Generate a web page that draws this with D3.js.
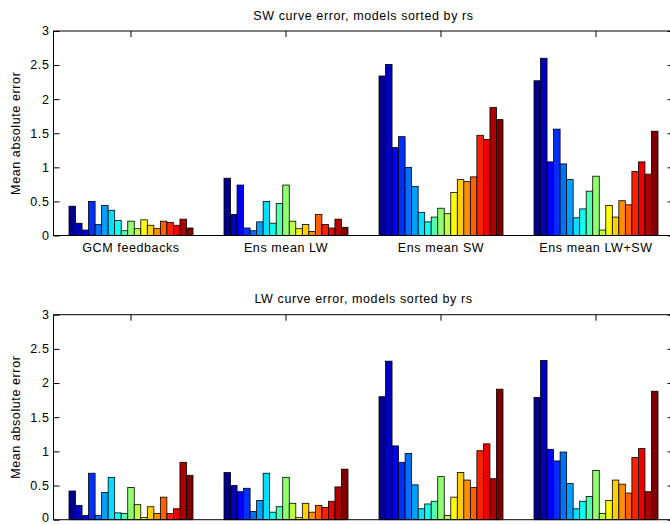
<!DOCTYPE html>
<html>
<head>
<meta charset="utf-8">
<script src="https://cdn.jsdelivr.net/npm/d3@7"></script>
<style>
  body { margin: 0; background: #fff; }
  svg { display: block; }
  text { font-family: "Liberation Sans", Arial, Helvetica, sans-serif; font-size: 12.5px; letter-spacing: 0.6px; fill: #000; }
</style>
</head>
<body>
<div id="chart"></div>
<script>
// values, one row per group, 19 models each
const groupLabels = ["GCM feedbacks", "Ens mean LW", "Ens mean SW", "Ens mean LW+SW"];
const yTicks = [0, 0.5, 1, 1.5, 2, 2.5, 3];

const swError = [
  [0.43, 0.18, 0.08, 0.50, 0.16, 0.44, 0.37, 0.22, 0.07, 0.21, 0.10, 0.23, 0.15, 0.10, 0.21, 0.19, 0.15, 0.24, 0.11],
  [0.84, 0.31, 0.74, 0.11, 0.07, 0.20, 0.50, 0.18, 0.47, 0.74, 0.21, 0.10, 0.16, 0.06, 0.31, 0.16, 0.11, 0.24, 0.12],
  [2.34, 2.51, 1.29, 1.45, 1.00, 0.72, 0.34, 0.20, 0.27, 0.40, 0.32, 0.63, 0.82, 0.79, 0.86, 1.47, 1.41, 1.88, 1.70],
  [2.27, 2.60, 1.08, 1.56, 1.05, 0.82, 0.26, 0.39, 0.65, 0.87, 0.08, 0.44, 0.27, 0.51, 0.45, 0.94, 1.08, 0.90, 1.53]
];

const lwError = [
  [0.42, 0.21, 0.06, 0.68, 0.06, 0.40, 0.62, 0.10, 0.09, 0.47, 0.22, 0.03, 0.19, 0.09, 0.33, 0.09, 0.16, 0.84, 0.65],
  [0.69, 0.50, 0.41, 0.46, 0.12, 0.28, 0.68, 0.11, 0.19, 0.62, 0.24, 0.03, 0.24, 0.11, 0.21, 0.18, 0.27, 0.48, 0.74],
  [1.80, 2.32, 1.08, 0.84, 0.97, 0.51, 0.16, 0.23, 0.27, 0.63, 0.06, 0.33, 0.69, 0.58, 0.47, 1.01, 1.11, 0.60, 1.91],
  [1.79, 2.33, 1.03, 0.86, 0.99, 0.53, 0.16, 0.27, 0.34, 0.72, 0.09, 0.28, 0.58, 0.52, 0.39, 0.91, 1.04, 0.41, 1.88]
];

const nModels = 19;

// matlab jet(64), picked the way bar() maps series index onto the colormap
function jet64(i) {
  const v = i + 1;
  const clamp = t => Math.max(0, Math.min(1, t));
  const r = clamp(Math.min((v - 24) / 16, (72 - v) / 16));
  const g = clamp(Math.min((v - 8) / 16, (56 - v) / 16));
  const b = clamp(Math.min((v + 8) / 16, (40 - v) / 16));
  return d3.rgb(r * 255, g * 255, b * 255).formatHex();
}
const modelColor = k => jet64(Math.min(63, Math.floor(k / (nModels - 1) * 64)));

const width = 670, height = 525;
const svg = d3.select("#chart").append("svg")
  .attr("width", width)
  .attr("height", height);

// groups placed like matlab: xlim [0.5 4.5], group width 0.8
const x0 = d3.scaleBand()
  .domain(groupLabels)
  .range([53.5, 673.5])
  .paddingInner(0.2)
  .paddingOuter(0.1);

const x1 = d3.scaleBand()
  .domain(d3.range(nModels))
  .range([0, x0.bandwidth()]);

const tickLen = 6;

function drawPanel(data, title, top, bottom, showXLabels) {
  const y = d3.scaleLinear().domain([0, 3]).range([bottom, top]);
  const left = x0.range()[0], right = x0.range()[1];
  const g = svg.append("g");

  // bars
  groupLabels.forEach((lab, gi) => {
    g.selectAll(null)
      .data(data[gi])
      .enter()
      .append("rect")
        .attr("x", (d, k) => x0(lab) + x1(k))
        .attr("y", d => y(d))
        .attr("width", x1.bandwidth())
        .attr("height", d => y(0) - y(d))
        .attr("fill", (d, k) => modelColor(k))
        .attr("stroke", "#000")
        .attr("stroke-width", 0.8);
  });

  // box
  g.append("rect")
    .attr("x", left)
    .attr("y", top)
    .attr("width", right - left)
    .attr("height", bottom - top)
    .attr("fill", "none")
    .attr("stroke", "#000")
    .attr("stroke-width", 1);

  // y ticks inside on both sides
  const leftAxis = d3.axisRight(y).tickValues(yTicks).tickSize(tickLen).tickFormat("");
  g.append("g").attr("transform", `translate(${left},0)`).call(leftAxis)
    .call(a => a.select(".domain").remove());
  const rightAxis = d3.axisLeft(y).tickValues(yTicks).tickSize(tickLen).tickFormat("");
  g.append("g").attr("transform", `translate(${right},0)`).call(rightAxis)
    .call(a => a.select(".domain").remove());

  // y tick labels
  g.selectAll(null)
    .data(yTicks)
    .enter()
    .append("text")
      .attr("x", left - 4)
      .attr("y", d => y(d))
      .attr("dy", d => d === 0 && bottom > 500 ? "0.2em" : "0.35em")
      .attr("text-anchor", "end")
      .text(d => d);

  // x ticks at the top, pointing down
  const topAxis = d3.axisBottom(x0).tickSize(tickLen).tickFormat("");
  g.append("g").attr("transform", `translate(0,${top})`).call(topAxis)
    .call(a => a.select(".domain").remove());

  if (showXLabels) {
    g.selectAll(null)
      .data(groupLabels)
      .enter()
      .append("text")
        .attr("x", d => x0(d) + x0.bandwidth() / 2)
        .attr("y", bottom + 16)
        .attr("text-anchor", "middle")
        .text(d => d);
  }

  // title
  g.append("text")
    .attr("x", (left + right) / 2)
    .attr("y", top - 11.5)
    .attr("text-anchor", "middle")
    .text(title);

  // y label
  g.append("text")
    .attr("transform", `translate(20,${(top + bottom) / 2}) rotate(-90)`)
    .attr("text-anchor", "middle")
    .text("Mean absolute error");

  g.selectAll(".tick line").attr("stroke", "#000");
}

drawPanel(swError, "SW curve error, models sorted by rs", 31, 235.5, true);
drawPanel(lwError, "LW curve error, models sorted by rs", 314.7, 519.7, false);
</script>
</body>
</html>
